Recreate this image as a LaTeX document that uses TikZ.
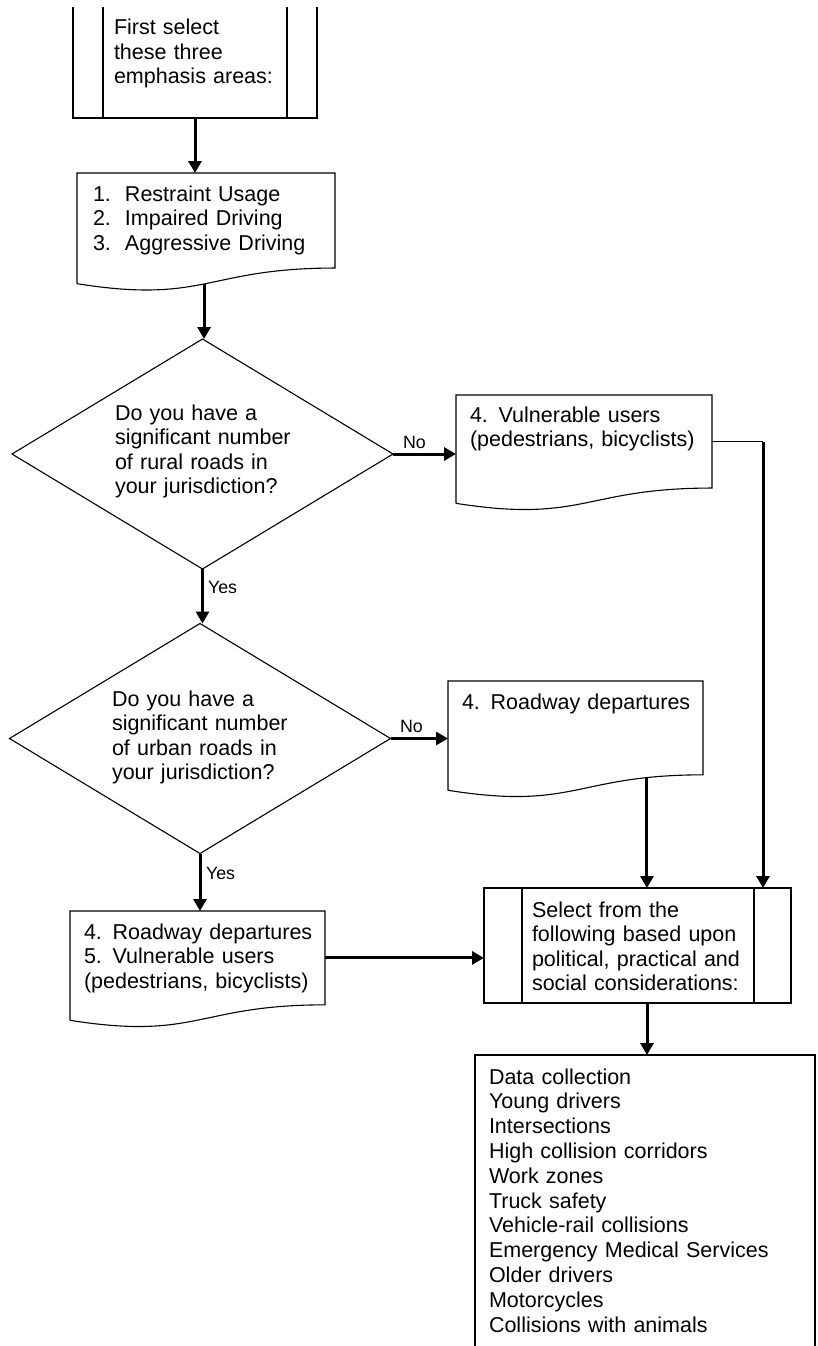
\documentclass[tikz,border=0pt]{standalone}
\usepackage{fontspec}
\setmainfont{Liberation Sans}
\usetikzlibrary{arrows.meta,shapes.geometric,calc}
\newcommand{\docbox}[6]{%
  \node[box, minimum width=#4, minimum height={0.802*#5}] (#1) at (#2,#3) {};
  \draw[shapeline] ($(#1.south west)+(0,{0.132*#5})$) -- (#1.north west) -- (#1.north east) -- (#1.south east)
    .. controls (#1.south) and ($(#1.south)+(0,{0.3055*#5})$) .. ($(#1.south west)+(0,{0.132*#5})$) coordinate[pos=#6] (#1out);
}
\begin{document}
\begin{tikzpicture}[x=1pt,y=-1pt,
  shapeline/.style={line width=1.1pt, draw=black},
  flow/.style={line width=3pt, -{Triangle[length=12pt,width=13pt]}},
  thinflow/.style={line width=1.1pt},
  txt/.style={anchor=base west, inner sep=0, outer sep=0, align=left, text width=340pt, font=\fontsize{21.5}{24.5}\selectfont},
  lbl/.style={anchor=base west, inner sep=0, outer sep=0, font=\fontsize{17.8}{20}\selectfont},
  box/.style={rectangle, inner sep=0, outer sep=0, anchor=north west},
  decision/.style={diamond, shapeline, inner sep=0, outer sep=0, minimum width=381, minimum height=230, aspect=1.66},
]
\useasboundingbox (0,0) rectangle (817,1346);
\clip (0,0) rectangle (817,1346);

% box 1: predefined process (top edge off the page)
\node[box, minimum width=244, minimum height=111] (b1) at (73,7) {};
\draw[shapeline] (b1.north west) -- (b1.south west) -- (b1.south east) -- (b1.north east);
\draw[shapeline] ([xshift=30]b1.north west) -- ([xshift=30]b1.south west);
\draw[shapeline] ([xshift=-30]b1.north east) -- ([xshift=-30]b1.south east);
\node[txt] (t1) at (114,35) {First select\\these three\\emphasis areas:};

% box 2: document
\docbox{b2}{77}{173}{258}{118.5}{0.51}
\node[txt] (t2) at (93,201) {\makebox[32pt][l]{1.}Restraint Usage\\\makebox[32pt][l]{2.}Impaired Driving\\\makebox[32pt][l]{3.}Aggressive Driving};

% decision 1
\node[decision] (d1) at (202.5,454) {};
\node[txt] (q1) at (115,420) {Do you have a\\significant number\\of rural roads in\\your jurisdiction?};

% box 3: document
\docbox{b3}{456}{395}{256}{116}{0.5}
\node[txt] (t3) at (470,422) {4. Vulnerable users\\(pedestrians, bicyclists)};

% decision 2
\node[decision] (d2) at (200,738.5) {};
\node[txt] (q2) at (112,706) {Do you have a\\significant number\\of urban roads in\\your jurisdiction?};

% box 4: document
\docbox{b4}{448}{681}{255}{117}{0.173}
\node[txt] (t4) at (462,709) {4. Roadway departures};

% box 6: document
\docbox{b6}{70}{911}{255}{117}{0.5}
\node[txt] (t6) at (84,939) {4. Roadway departures\\5. Vulnerable users\\(pedestrians, bicyclists)};

% box 5: predefined process
\node[box, draw, shapeline, minimum width=307, minimum height=115] (b5) at (484,888) {};
\draw[shapeline] ([xshift=38]b5.north west) -- ([xshift=38]b5.south west);
\draw[shapeline] ([xshift=-37]b5.north east) -- ([xshift=-37]b5.south east);
\node[txt] (t5) at (532,917) {Select from the\\following based upon\\political, practical and\\social considerations:};

% box 7: list (bottom edge off the page)
\node[box, draw, shapeline, minimum width=340, minimum height=340] (b7) at (475,1055) {};
\node[txt, font=\fontsize{21.5}{24.8}\selectfont] (t7) at (489,1084) {Data collection\\Young drivers\\Intersections\\High collision corridors\\Work zones\\Truck safety\\Vehicle-rail collisions\\Emergency Medical Services\\Older drivers\\Motorcycles\\Collisions with animals};

% connectors
\coordinate (c3) at ($(b3.east)+(51,0)$);
\draw[flow] (b1.south) -- (b1.south |- b2.north);
\draw[flow] (b2out) -- (b2out |- d1.north);
\draw[flow] (d1.east) -- (d1.east -| b3.west);
\draw[flow] (d1.south) -- (d1.south |- d2.north);
\draw[flow] (d2.east) -- (d2.east -| b4.west);
\draw[flow] (d2.south) -- (d2.south |- b6.north);
\draw[thinflow] (b3.east) -- (c3);
\draw[flow] (c3) -- (c3 |- b5.north);
\draw[flow] (b4out) -- (b4out |- b5.north);
\draw[flow] (b6.east) -- (b6.east -| b5.west);
\draw[flow] ([xshift=9.5]b5.south) -- ([xshift=9.5]b5.south |- b7.north);

% labels
\node[lbl] (no1) at (403,448) {No};
\node[lbl] (no2) at (400,732) {No};
\node[lbl] (yes1) at (208,593) {Yes};
\node[lbl] (yes2) at (206,879) {Yes};
\end{tikzpicture}
\end{document}
